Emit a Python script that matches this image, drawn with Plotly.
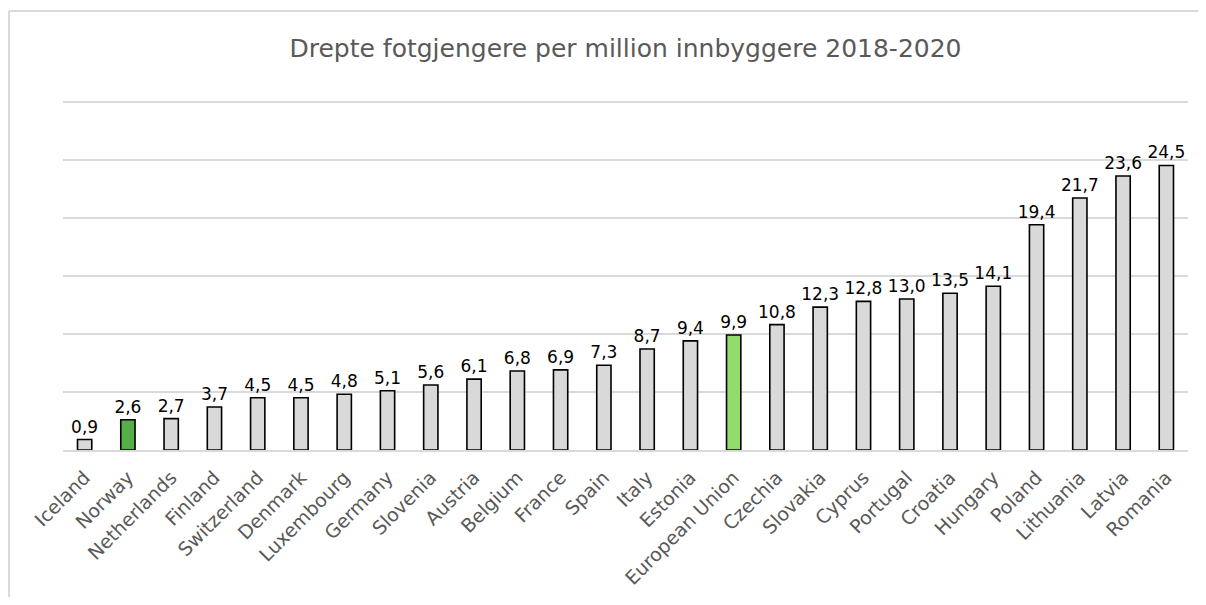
import plotly.graph_objects as go

countries = ["Iceland", "Norway", "Netherlands", "Finland", "Switzerland", "Denmark",
             "Luxembourg", "Germany", "Slovenia", "Austria", "Belgium", "France",
             "Spain", "Italy", "Estonia", "European Union", "Czechia", "Slovakia",
             "Cyprus", "Portugal", "Croatia", "Hungary", "Poland", "Lithuania",
             "Latvia", "Romania"]
values = [0.9, 2.6, 2.7, 3.7, 4.5, 4.5, 4.8, 5.1, 5.6, 6.1, 6.8, 6.9, 7.3, 8.7,
          9.4, 9.9, 10.8, 12.3, 12.8, 13.0, 13.5, 14.1, 19.4, 21.7, 23.6, 24.5]
highlight = {"Norway": "#56ae48", "European Union": "#92dc6a"}

colors = [highlight.get(c, "#d9d9d9") for c in countries]
labels = [f"{v:.1f}".replace(".", ",") for v in values]

# page body has an 8px margin all round, so the figure is kept inside it
W, H = 1190, 589
L, R, T, B = 55, 10, 82, 147
FONT = "DejaVu Sans"

fig = go.Figure()
fig.add_trace(go.Bar(
    x=countries, y=values,
    marker=dict(color=colors, line=dict(color="#000000", width=1.6)),
    width=0.33,
    text=labels, textposition="outside", cliponaxis=False,
    constraintext="none", textangle=0,
    textfont=dict(family=FONT, size=17, color="#000000"),
    hoverinfo="x+y",
))

# chart border: only left and top edges are visible in the crop
pw, ph = W - L - R, H - T - B
bx0, by1 = (1 - L) / pw, (H - 3 - B) / ph
border = dict(color="#d9d9d9", width=2)
fig.add_shape(type="line", xref="paper", yref="paper",
              x0=bx0, x1=bx0, y0=-(B + 20) / ph, y1=by1, line=border, layer="below")
fig.add_shape(type="line", xref="paper", yref="paper",
              x0=bx0, x1=(W + 20 - L) / pw, y0=by1, y1=by1, line=border, layer="below")

fig.update_layout(
    width=W, height=H,
    margin=dict(l=L, r=R, t=T, b=B, autoexpand=False),
    paper_bgcolor="white", plot_bgcolor="white",
    title=dict(text="Drepte fotgjengere per million innbyggere 2018-2020",
               x=(L + pw / 2) / W, xanchor="center", y=1 - 40 / H, yanchor="middle",
               font=dict(family=FONT, size=25, color="#595959")),
    showlegend=False,
    bargap=0.67,
)
fig.update_xaxes(tickangle=-45, tickfont=dict(family=FONT, size=19, color="#595959"),
                 showline=True, linecolor="#d9d9d9", linewidth=2,
                 ticks="outside", ticklen=7, tickcolor="rgba(0,0,0,0)", showgrid=False,
                 automargin=False)
fig.update_yaxes(range=[0, 31], tickvals=[5, 10, 15, 20, 25, 30], showgrid=True,
                 gridcolor="#d9d9d9", gridwidth=2, showticklabels=False, zeroline=False,
                 showline=False, automargin=False)

fig.write_html("out.html")
